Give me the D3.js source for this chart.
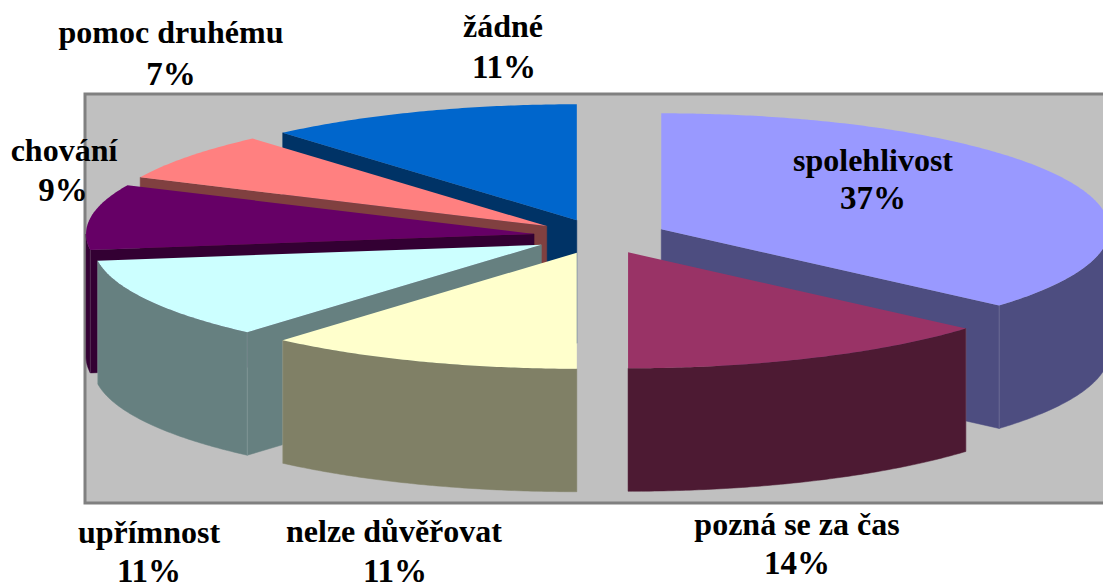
<!DOCTYPE html>
<html lang="cs">
<head>
<meta charset="utf-8">
<script src="https://cdn.jsdelivr.net/npm/d3@7"></script>
<style>
html,body{margin:0;padding:0;background:#fff;overflow:hidden}
svg{display:block}
text{font-family:"Liberation Serif","Times New Roman",serif;font-weight:700;font-size:32px;fill:#000;text-anchor:middle}
text.pct{font-size:33px}
</style>
</head>
<body>
<svg id="chart" width="1103" height="584"></svg>
<script>
// Data
const categories = ["spolehlivost", "pozná se za čas", "nelze důvěřovat", "upřímnost", "chování", "pomoc druhému", "žádné"];
const shares = [36.4, 13.6, 11.4, 11.4, 9.1, 6.7, 11.4];
const percentLabels = ["37%", "14%", "11%", "11%", "9%", "7%", "11%"];
const topColors = ["#9999FF", "#993366", "#FFFFCC", "#CCFFFF", "#660066", "#FF8080", "#0066CC"];
const sideColors = ["#4D4D80", "#4D1A33", "#808066", "#668080", "#330033", "#804040", "#003366"];
// Painter's order, back to front (indexes into the lists above)
const paintOrder = [6, 0, 5, 4, 3, 2, 1];
// Label layout: [centre x, first baseline, second-line centre x, second baseline]
const labelLayout = [
  [873, 171, 873, 209],
  [797, 535, 797, 574],
  [394, 542, 395, 582],
  [149, 543, 149, 582],
  [64, 161, 63, 201],
  [171, 43, 171, 85],
  [503, 37, 504, 78]
];

const W = 1103, H = 584;
const cx = 600.3, cy = 236.5, rx = 448, ry = 116, depth = 123, explode = 0.1495;

const svg = d3.select("#chart");
svg.append("rect").attr("x", 85).attr("y", 94).attr("width", 1040).attr("height", 409)
  .attr("fill", "#C0C0C0").attr("stroke", "#808080").attr("stroke-width", 3);

const sx = d3.scaleLinear().domain([-1, 1]).range([-rx, rx]);
const sy = d3.scaleLinear().domain([-1, 1]).range([ry, -ry]); // +1 = back of the pie (up on screen)

const arcs = d3.pie().sort(null).value(d => d)(shares);
const rim = (a, o) => [o[0] + sx(Math.sin(a)), o[1] + sy(Math.cos(a))];
const line = d3.line();
const down = p => [p[0], p[1] + depth];
const sampleAngles = (a0, a1) => {
  const n = Math.max(2, Math.ceil((a1 - a0) / 0.01));
  return d3.range(n + 1).map(i => a0 + (a1 - a0) * i / n);
};

const g = svg.append("g");
paintOrder.forEach(i => {
  const d = arcs[i];
  const mid = (d.startAngle + d.endAngle) / 2;
  const o = [cx + explode * sx(Math.sin(mid)), cy + explode * sy(Math.cos(mid))];
  const side = sideColors[i];
  const face = pts => g.append("path").attr("d", line(pts) + "Z").attr("fill", side).attr("stroke", side).attr("stroke-width", 0.5);

  // Cut faces: drawn only if their outward normal points towards the viewer
  [[d.startAngle, -Math.PI / 2], [d.endAngle, Math.PI / 2]].forEach(([a, turn]) => {
    if (Math.cos(a + turn) < -1e-6) {
      const p = rim(a, o);
      face([o, p, down(p), down(o)]);
    }
  });
  // Outer wall: only the front half of the rim
  const w0 = Math.max(d.startAngle, Math.PI / 2), w1 = Math.min(d.endAngle, 3 * Math.PI / 2);
  if (w1 > w0) {
    const upper = sampleAngles(w0, w1).map(a => rim(a, o));
    face(upper.concat(upper.map(down).reverse()));
    // Faint seam where the wall meets a cut face
    [[d.endAngle, d.endAngle <= w1], [d.startAngle, d.startAngle >= w0]].forEach(([a, show]) => {
      if (show && Math.abs(a - Math.PI) > 0.01) {
        const p = rim(a, o);
        g.append("path").attr("d", line([p, down(p)])).attr("stroke", "#fff").attr("stroke-opacity", 0.14).attr("fill", "none");
      }
    });
  }
  // Top face
  const top = [o].concat(sampleAngles(d.startAngle, d.endAngle).map(a => rim(a, o)));
  g.append("path").attr("d", line(top) + "Z").attr("fill", topColors[i]);
});

const labels = svg.append("g");
categories.forEach((c, i) => {
  const l = labelLayout[i];
  labels.append("text").attr("x", l[0]).attr("y", l[1]).text(c);
  labels.append("text").attr("class", "pct").attr("x", l[2]).attr("y", l[3]).text(percentLabels[i]);
});
</script>
</body>
</html>
